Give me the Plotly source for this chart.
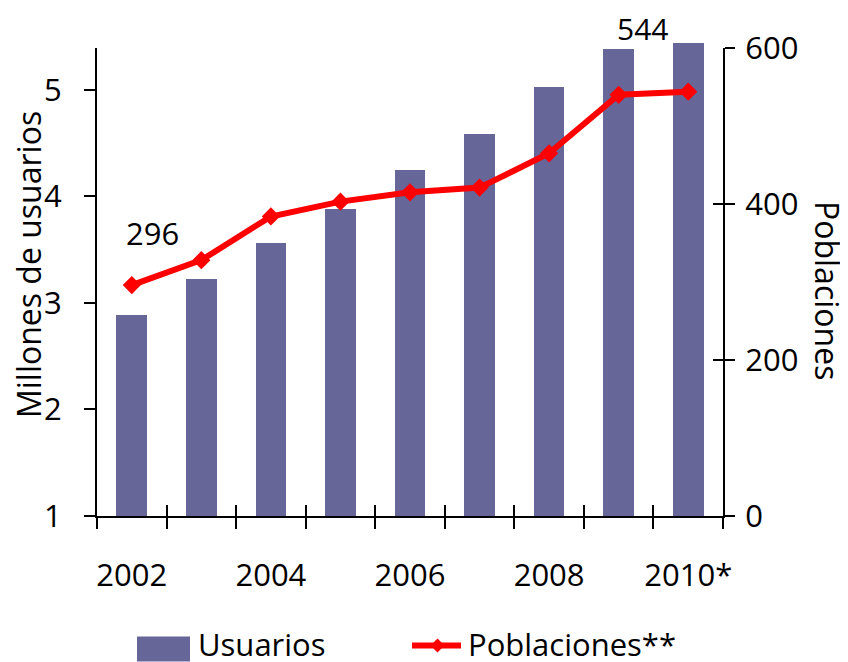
import plotly.graph_objects as go

# datos
years = ["2002", "2003", "2004", "2005", "2006", "2007", "2008", "2009", "2010*"]
usuarios = [2.89, 3.22, 3.56, 3.88, 4.25, 4.59, 5.03, 5.38, 5.44]  # millones
poblaciones = [296, 328, 384, 403, 415, 421, 465, 540, 544]
label_years = ["2002", "2004", "2006", "2008", "2010*"]

FONT = "Open Sans"
BAR = "#666699"
RED = "#ff0000"
BASE = 1  # el eje izquierdo empieza en 1
YTOP = 5.393
PTOP = 600

xpos = list(range(len(years)))
bounds = [i - 0.5 for i in range(len(years) + 1)]
label_pos = [years.index(y) for y in label_years]

# area de trazado en pantalla: 97..723 x 40..516; los ejes visibles llegan a y=46
W, H = 626.0, 476.0
AX_H = 470.0
dom_top = AX_H / H
bar_top = BASE + (YTOP - BASE) * H / AX_H
line_top = PTOP * H / AX_H

fig = go.Figure()
# barras y linea en ejes ocultos algo mas altos, para que 2010 sobresalga como en el original
fig.add_trace(go.Bar(
    x=xpos, y=[u - BASE for u in usuarios], base=BASE, name="Usuarios", yaxis="y4",
    marker=dict(color=BAR, line=dict(width=0)),
    width=0.44, showlegend=False,
))
fig.add_trace(go.Scatter(
    x=xpos, y=poblaciones, name="Poblaciones**", yaxis="y5",
    mode="lines+markers", line=dict(color=RED, width=6),
    marker=dict(symbol="diamond", size=14, color=RED),
    cliponaxis=False, showlegend=False,
))
# trazas vacias para que se dibujen los ejes visibles
fig.add_trace(go.Scatter(x=[None], y=[None], xaxis="x2", yaxis="y", showlegend=False, hoverinfo="skip"))
fig.add_trace(go.Scatter(x=[None], y=[None], xaxis="x", yaxis="y2", showlegend=False, hoverinfo="skip"))
fig.add_trace(go.Scatter(x=[None], y=[None], xaxis="x", yaxis="y3", showlegend=False, hoverinfo="skip"))

axis_font = dict(family=FONT, size=31, color="black")
xr = [-0.5, len(years) - 0.5]

# la pagina desplaza la figura 8px, se compensa en los margenes
fig.update_layout(
    width=848, height=662,
    margin=dict(l=89, r=133, t=32, b=154),
    plot_bgcolor="rgba(0,0,0,0)", paper_bgcolor="white",
    font=dict(family=FONT, color="black"),
    bargap=0,
    xaxis=dict(
        range=xr, tickvals=label_pos, ticktext=label_years, anchor="y",
        ticks="", ticklen=0, ticklabelstandoff=31,
        tickfont=axis_font, showgrid=False, zeroline=False,
        showline=True, linecolor="black", linewidth=2,
        minor=dict(tickvals=bounds, ticks="outside", ticklen=11, tickwidth=2, tickcolor="black"),
    ),
    xaxis2=dict(
        range=xr, overlaying="x", anchor="y", side="bottom",
        tickvals=bounds, ticks="inside", ticklen=11, tickwidth=2, tickcolor="black",
        showticklabels=False, showgrid=False, zeroline=False, showline=False,
    ),
    yaxis=dict(
        range=[BASE, YTOP], domain=[0, dom_top], tickvals=[1, 2, 3, 4, 5],
        ticks="outside", ticklen=11, tickwidth=2, tickcolor="black",
        ticklabelstandoff=16, tickfont=axis_font,
        showgrid=False, zeroline=False,
        showline=True, linecolor="black", linewidth=2,
    ),
    yaxis2=dict(
        range=[0, PTOP], overlaying="y", side="right", anchor="x",
        tickvals=[0, 200, 400, 600], ticks="outside", ticklen=10, tickwidth=2, tickcolor="black",
        ticklabelstandoff=4, tickfont=axis_font,
        showgrid=False, zeroline=False,
        showline=True, linecolor="black", linewidth=2,
    ),
    yaxis3=dict(
        range=[0, PTOP], overlaying="y", side="right", anchor="x",
        tickvals=[0, 200, 400, 600], ticks="inside", ticklen=10, tickwidth=2, tickcolor="black",
        showticklabels=False, showgrid=False, zeroline=False, showline=False,
    ),
    yaxis4=dict(range=[BASE, bar_top], domain=[0, 1], anchor="x", visible=False),
    yaxis5=dict(range=[0, line_top], overlaying="y4", side="right", anchor="x", visible=False),
)

txt = dict(family=FONT, size=31, color="black")
big = dict(family=FONT, size=32, color="black")
leg = dict(family=FONT, size=31, color="black")

# coordenadas de pantalla -> paper
def px(x):
    return (x - 97) / W
def py(y):
    return (516 - y) / H

# etiquetas de datos
fig.add_annotation(x=0.3, y=py(232), xref="x", yref="paper", text=str(poblaciones[0]),
                   xanchor="center", yanchor="middle", showarrow=False, font=txt)
fig.add_annotation(x=7.34, y=py(26), xref="x", yref="paper", text=str(poblaciones[-1]),
                   xanchor="center", yanchor="middle", showarrow=False, font=dict(family=FONT, size=30, color="black"))

# titulos de ejes
fig.add_annotation(x=px(28), y=py(264), xref="paper", yref="paper", text="Millones de usuarios",
                   textangle=-90, xanchor="center", yanchor="middle", showarrow=False, font=big)
fig.add_annotation(x=px(827), y=py(289), xref="paper", yref="paper", text="Poblaciones",
                   textangle=90, xanchor="center", yanchor="middle", showarrow=False, font=big)

# leyenda (en el original queda pegada al borde inferior)
LY = 645
fig.add_shape(type="rect", xref="paper", yref="paper",
              x0=px(137), x1=px(190), y0=py(662), y1=py(637),
              fillcolor=BAR, line=dict(width=0))
fig.add_annotation(x=px(196), y=py(LY), xref="paper", yref="paper", text="Usuarios",
                   xanchor="left", yanchor="middle", showarrow=False, font=leg)
fig.add_shape(type="line", xref="paper", yref="paper",
              x0=px(412), x1=px(461), y0=py(646), y1=py(646),
              line=dict(color=RED, width=6))
cx, cy, d = 437.5, 646, 7
fig.add_shape(type="path", xref="paper", yref="paper",
              path=f"M{px(cx - d)},{py(cy)} L{px(cx)},{py(cy - d)} L{px(cx + d)},{py(cy)} L{px(cx)},{py(cy + d)} Z",
              fillcolor=RED, line=dict(width=0))
fig.add_annotation(x=px(466), y=py(LY), xref="paper", yref="paper", text="Poblaciones**",
                   xanchor="left", yanchor="middle", showarrow=False, font=leg)

fig.write_html("out.html")
